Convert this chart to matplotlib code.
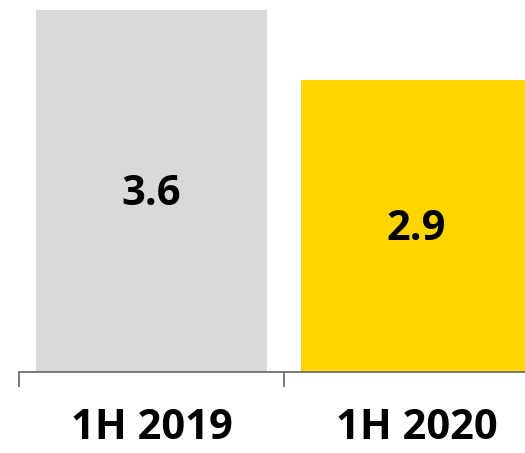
import matplotlib.pyplot as plt

# data
categories = ["1H 2019", "1H 2020"]
values = [3.6, 2.9]
colors = ["#D9D9D9", "#FFD500"]

fig = plt.figure(figsize=(5.25, 4.53), dpi=100)
ax = fig.add_axes([19 / 525, 81 / 453, 506 / 525, 372 / 453])

x = range(len(categories))
bars = ax.bar(x, values, width=0.87, color=colors, zorder=2)

for b, v in zip(bars, values):
    ax.text(b.get_x() + b.get_width() / 2, v / 2 - 0.03, f"{v:.1f}",
            ha="center", va="center", fontsize=30, fontweight="bold",
            family=["Open Sans", "DejaVu Sans"], color="black")

ax.set_xlim(-0.5, 1.409)
ax.set_ylim(0, 3.70)

for s in ["top", "right", "left"]:
    ax.spines[s].set_visible(False)
ax.spines["bottom"].set_color("#6F6F6F")
ax.spines["bottom"].set_linewidth(1.3)
ax.spines["bottom"].set_zorder(3)

ax.set_yticks([])
ax.set_xticks(list(x))
ax.set_xticklabels(categories, fontsize=30, fontweight="bold",
                   family=["Open Sans", "DejaVu Sans"])
ax.tick_params(axis="x", which="major", length=0, pad=26)
ax.set_xticks([-0.5, 0.5], minor=True)
ax.tick_params(axis="x", which="minor", length=11, width=1.3, color="#6F6F6F",
               direction="out")

fig.savefig("out.png", dpi=100)
